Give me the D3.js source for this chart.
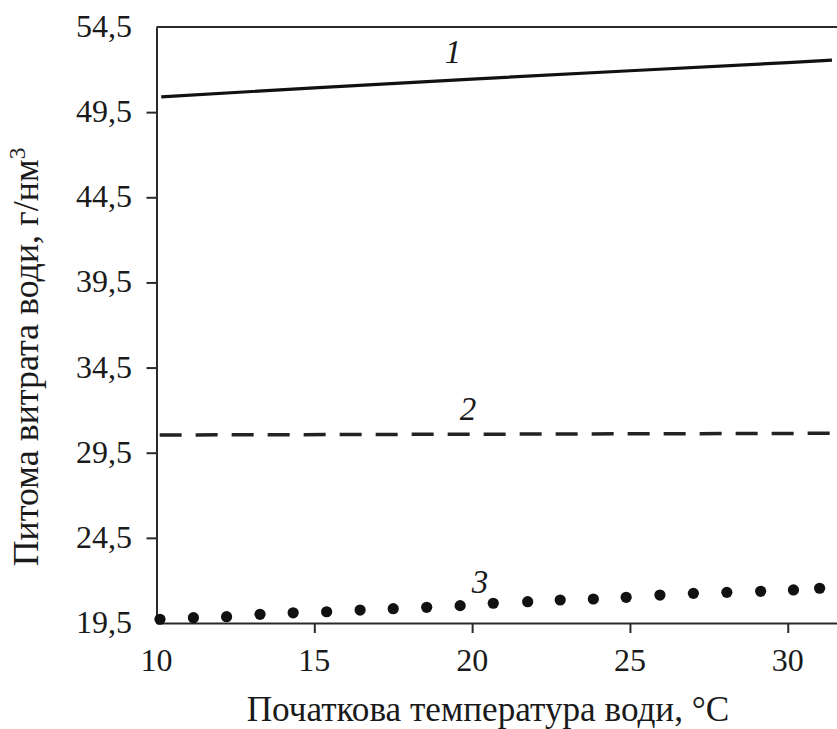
<!DOCTYPE html>
<html>
<head>
<meta charset="utf-8">
<script src="https://cdn.jsdelivr.net/npm/d3@7"></script>
<style>
  html, body { margin: 0; padding: 0; background: #fff; }
  svg { display: block; }
  svg text { font-family: "Liberation Serif", "DejaVu Serif", "Noto Serif", Tinos, "Times New Roman", Times, serif; fill: #1a1a1a; }
  .tick-label { font-size: 32px; }
  .curve-label { font-size: 33px; font-style: italic; }
</style>
</head>
<body>
<svg id="chart" width="837" height="729"></svg>
<script>
// Curve 1: specific water consumption, solid line
const line1Temp = [10.15, 15, 20, 25, 30, 31.4];
const line1Vals = [50.40, 50.93, 51.44, 51.93, 52.41, 52.55];

// Curve 2: dashed line
const line2Temp = [10.1, 31.4];
const line2Vals = [30.54, 30.64];

// Curve 3: dotted series
const dotTemp = [10.11, 11.17, 12.22, 13.28, 14.33, 15.39, 16.45, 17.50, 18.56, 19.62,
                 20.67, 21.76, 22.79, 23.84, 24.88, 25.95, 27.01, 28.07, 29.14, 30.18, 31.01];
const dotVals = [19.72, 19.81, 19.87, 20.01, 20.10, 20.16, 20.26, 20.34, 20.42, 20.52,
                 20.66, 20.75, 20.85, 20.91, 21.01, 21.14, 21.24, 21.30, 21.36, 21.44, 21.54];

const xTicks = [10, 15, 20, 25, 30];
const yTicks = [19.5, 24.5, 29.5, 34.5, 39.5, 44.5, 49.5, 54.5];

// Curve labels: [text, temperature, value]
const curveLabels = [["1", 19.39, 52.38], ["2", 19.87, 31.42], ["3", 20.25, 21.26]];

const xTitle = "Початкова температура води, °C";
const yTitle = "Питома витрата води, г/нм";

const svg = d3.select("#chart");
const W = 837;

const x = d3.scaleLinear().domain([10, 31.56]).range([156.5, W]);
const y = d3.scaleLinear().domain([19.5, 54.5]).range([623, 27]);

const fmt = d => d3.format(".1f")(d).replace(".", ",");

// axis lines and tick marks (labels are drawn separately below)
const xAxis = svg.append("g")
  .attr("transform", `translate(0,${y(19.5)})`)
  .call(d3.axisBottom(x).tickValues(xTicks).tickFormat("").tickSize(10).tickSizeOuter(0));
const yAxis = svg.append("g")
  .attr("transform", `translate(${x(10)},0)`)
  .call(d3.axisLeft(y).tickValues(yTicks).tickFormat("").tickSize(10).tickSizeOuter(0));

[xAxis, yAxis].forEach(g => {
  g.selectAll("text").remove();
  g.select(".domain").attr("stroke", "#2a2a2a").attr("stroke-width", 2);
  g.selectAll(".tick line").attr("stroke", "#2a2a2a").attr("stroke-width", 2);
});
// no tick marks at the corners of the frame
xAxis.selectAll(".tick").filter(d => d === 10).select("line").remove();
yAxis.selectAll(".tick").filter(d => d === 19.5 || d === 54.5).select("line").remove();

// tick labels
svg.append("g").selectAll("text")
  .data(xTicks)
  .join("text")
  .attr("class", "tick-label")
  .attr("x", d => x(d)).attr("y", 671)
  .attr("text-anchor", "middle")
  .text(d => d);

svg.append("g").selectAll("text")
  .data(yTicks)
  .join("text")
  .attr("class", "tick-label")
  .attr("x", 132).attr("y", d => y(d) + 10)
  .attr("text-anchor", "end")
  .text(fmt);

// top frame line
svg.append("line")
  .attr("x1", x(10)).attr("x2", W)
  .attr("y1", y(54.5)).attr("y2", y(54.5))
  .attr("stroke", "#2a2a2a").attr("stroke-width", 2);

// curves
const lineGen = d3.line().x(d => x(d[0])).y(d => y(d[1]));

svg.append("path")
  .datum(d3.zip(line1Temp, line1Vals))
  .attr("d", lineGen)
  .attr("fill", "none").attr("stroke", "#111").attr("stroke-width", 3.2);

svg.append("path")
  .datum(d3.zip(line2Temp, line2Vals))
  .attr("d", lineGen)
  .attr("fill", "none").attr("stroke", "#222").attr("stroke-width", 3.5)
  .attr("stroke-dasharray", "22,14");

svg.append("g").selectAll("circle")
  .data(d3.zip(dotTemp, dotVals))
  .join("circle")
  .attr("cx", d => x(d[0])).attr("cy", d => y(d[1]))
  .attr("r", 5.6).attr("fill", "#111");

// curve labels
svg.append("g").selectAll("text")
  .data(curveLabels)
  .join("text")
  .attr("class", "curve-label")
  .attr("x", d => x(d[1])).attr("y", d => y(d[2]))
  .attr("text-anchor", "middle")
  .text(d => d[0]);

// axis titles, sized to their spans
function fitText(sel, target, base) {
  const len = sel.node().getComputedTextLength();
  if (len > 0) sel.style("font-size", Math.min(38, Math.max(26, base * target / len)) + "px");
}

const xt = svg.append("text")
  .attr("x", 488).attr("y", 721)
  .attr("text-anchor", "middle")
  .style("font-size", "32px")
  .text(xTitle);
fitText(xt, 483, 32);

const yt = svg.append("text")
  .attr("transform", "translate(38,357) rotate(-90)")
  .attr("text-anchor", "middle")
  .style("font-size", "32px");
yt.append("tspan").text(yTitle);
const sup = yt.append("tspan").attr("dy", -13).style("font-size", "21px").text("3");
fitText(yt, 419, 32);
sup.style("font-size", (parseFloat(yt.style("font-size")) * 0.65) + "px");
</script>
</body>
</html>
